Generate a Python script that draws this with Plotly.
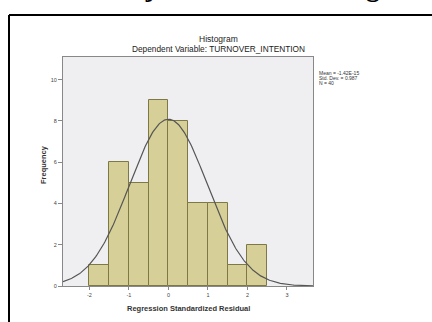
import numpy as np
import plotly.graph_objects as go

# ---- data ----
bin_starts = [-2.0, -1.5, -1.0, -0.5, 0.0, 0.5, 1.0, 1.5, 2.0]
counts = [1, 6, 5, 9, 8, 4, 4, 1, 2]
bin_width = 0.5
mean_val = 0.0
std_val = 0.987
n_val = 40
x_ticks = [-2, -1, 0, 1, 2, 3]
y_ticks = [0, 2, 4, 6, 8, 10]
stats_lines = ["Mean = -1.42E-15", "Std. Dev. = 0.987", "N = 40"]

# layout geometry (pixels)
W, H = 432, 322
L, R, T, B = 63, 313, 57, 286
pw, ph = R - L, B - T

def px(xp):
    return (xp - L) / pw

def py(yp):
    return (B - yp) / ph

x_range = [-2.67, 3.66]
y_range = [0, 11.1]

# fitted normal curve
xc = np.linspace(x_range[0], x_range[1], 300)
yc = n_val * bin_width / (std_val * np.sqrt(2 * np.pi)) * np.exp(-0.5 * ((xc - mean_val) / std_val) ** 2)

fig = go.Figure()
fig.add_trace(go.Bar(
    x=bin_starts, y=counts, width=bin_width, offset=0,
    marker=dict(color="#D6CF98", line=dict(color="#7E7846", width=1)),
    hoverinfo="skip",
))
fig.add_trace(go.Scatter(
    x=xc, y=yc, mode="lines",
    line=dict(color="#555555", width=1.2), hoverinfo="skip",
))

def ann(text, x, y, size, color="#222", xanchor="center", yanchor="middle", **kw):
    return dict(text=text, x=x, y=y, xref="paper", yref="paper", showarrow=False,
                xanchor=xanchor, yanchor=yanchor,
                font=dict(family=kw.pop("family", "Arial, Liberation Sans"), size=size, color=color),
                **kw)

annotations = [
    ann("Histogram", px(218), py(39), 8.5),
    ann("Dependent Variable: TURNOVER_INTENTION", px(218), py(49), 8.3),
    ann("<b>Regression Standardized Residual</b>", 0.5, py(308), 7.5, "#333"),
    ann("<b>Frequency</b>", px(43), py(165), 7.5, "#333", textangle=-90),
    # cut-off heading of the surrounding document (only glyph bottoms visible)
    ann("<b>Visual Uji Normalitas Histogram</b>", px(45), py(-13), 27, "#000",
        xanchor="left", family="Liberation Serif, Times New Roman"),
]
for i, s in enumerate(stats_lines):
    annotations.append(ann(s, px(317), py(72.5 + 5.4 * i), 5, "#333", xanchor="left"))

shapes = [
    # document frame lines
    dict(type="line", xref="paper", yref="paper", x0=px(9), x1=px(432), y0=py(15), y1=py(15),
         line=dict(color="#000", width=2)),
    dict(type="line", xref="paper", yref="paper", x0=px(9), x1=px(9), y0=py(15), y1=py(322),
         line=dict(color="#000", width=2)),
]

fig.update_layout(
    width=W, height=H,
    margin=dict(l=L, r=W - R, t=T, b=H - B, pad=0),
    paper_bgcolor="white", plot_bgcolor="#EFEFF2",
    showlegend=False, bargap=0,
    annotations=annotations, shapes=shapes,
    font=dict(family="Arial, Liberation Sans", size=5.5, color="#444"),
)
fig.update_xaxes(
    range=x_range, tickvals=x_ticks, ticktext=[str(v) for v in x_ticks],
    showgrid=False, zeroline=False, showline=True, linecolor="#888", linewidth=1,
    mirror=True, ticks="outside", ticklen=3, tickcolor="#888",
    tickfont=dict(size=5.5, color="#444"),
)
fig.update_yaxes(
    range=y_range, tickvals=y_ticks, ticktext=[str(v) for v in y_ticks],
    showgrid=False, zeroline=False, showline=True, linecolor="#888", linewidth=1,
    mirror=True, ticks="outside", ticklen=4, tickcolor="#888",
    tickfont=dict(size=5.5, color="#444"),
)

fig.write_html("out.html", config={"displayModeBar": False},
               post_script="document.body.style.margin='0';document.body.style.overflow='hidden';")
